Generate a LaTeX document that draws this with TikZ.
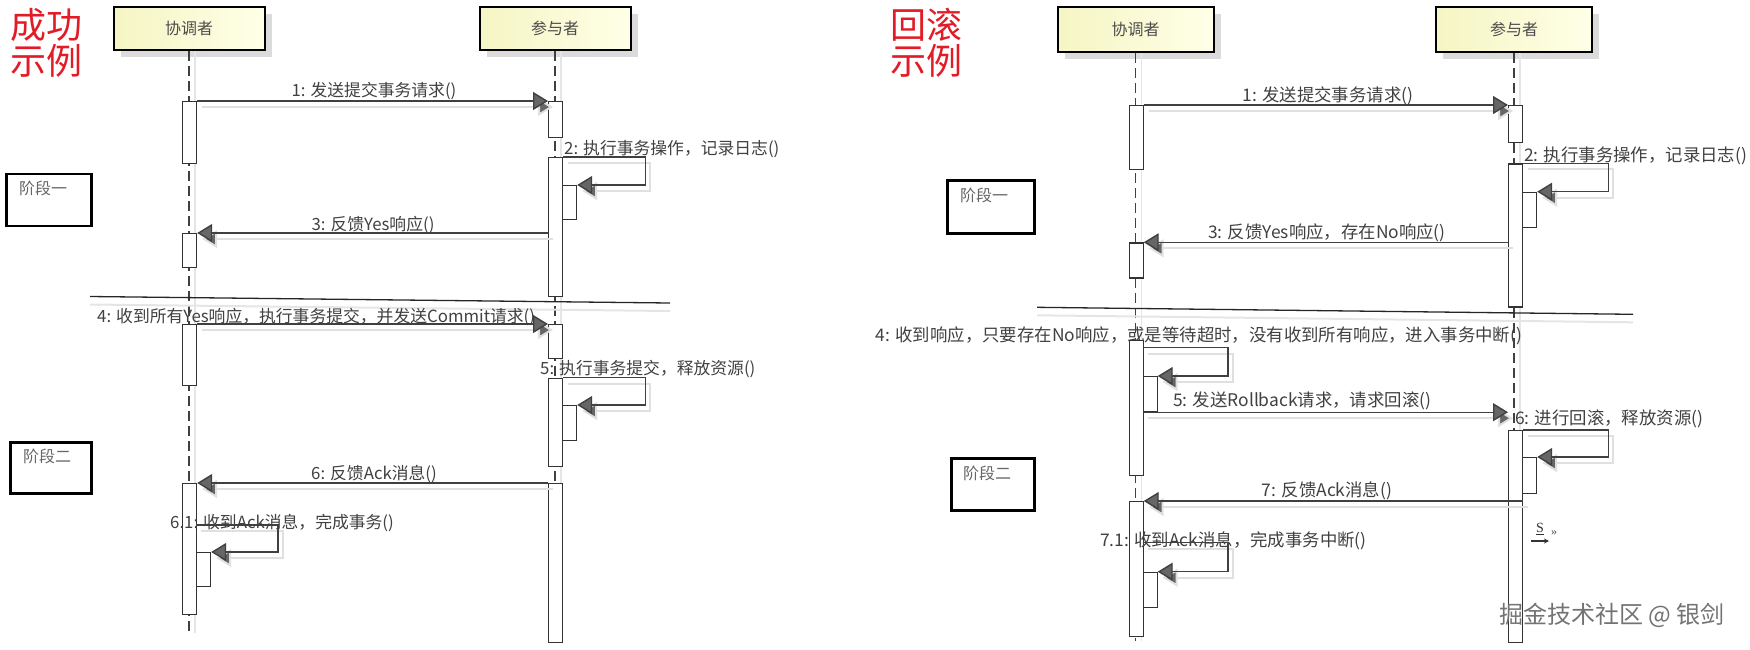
\documentclass[tikz,border=0pt]{standalone}
\usepackage{fontspec}
\setmainfont{Noto Sans CJK SC}
\newfontfamily\serifS{Liberation Serif}
\usetikzlibrary{arrows.meta,shadows,calc}
\definecolor{actorA}{RGB}{245,245,196}
\definecolor{actorB}{RGB}{255,255,232}
\definecolor{titlered}{RGB}{226,28,38}
\newcommand{\fsz}[1]{\fontsize{#1}{#1}\selectfont}
\begin{document}
\begin{tikzpicture}[x=1pt,y=-1pt,
  actor/.style={draw=black, line width=2, inner sep=0, left color=actorA, right color=actorB,
    font=\fsz{16}, text=black!70, drop shadow={shadow xshift=7pt, shadow yshift=-7pt, fill=black!14, opacity=1}},
  bar/.style={draw=black!80, line width=1.2, fill=white, minimum width=14, inner sep=0, anchor=north west},
  lifeline/.style={draw=black!75, line width=1.3, dash pattern=on 10pt off 5pt,
    preaction={draw=black!10, solid, line width=1.5, transform canvas={shift={(6pt,0pt)}}}},
  msg/.style={draw=black!75, line width=1.4, -{Triangle[length=15pt,width=18pt,fill=black!60]},
    preaction={draw=black!12, line width=2, transform canvas={shift={(5pt,-6pt)}}}},
  lblL/.style={font=\fsz{16.8}, text=black!75, inner sep=0},
  lblR/.style={font=\fsz{17.4}, text=black!75, inner sep=0},
  phase/.style={draw=black, line width=2.5, inner sep=0},
  phasetxt/.style={font=\fsz{16}, text=black!60, inner sep=0, anchor=base west},
  titletxt/.style={font=\fsz{36}, text=titlered, inner sep=0, align=left},
  sepline/.style={draw=black!85, line width=1.3, preaction={draw=black!10, line width=2, transform canvas={shift={(0pt,-8pt)}}}}
]
\useasboundingbox (0,0) rectangle (1750,649);

% ================= LEFT: success example =================
\node[titletxt] (tA) at (46,43) {成功\\[0pt]示例};

\node[actor, minimum width=151, minimum height=43] (cA) at (189,28.5) {协调者};
\node[actor, minimum width=151, minimum height=43] (pA) at (555,28.5) {参与者};

\coordinate (cAe) at (189,633);
\coordinate (pAe) at (555,642);
\draw[lifeline] (cA.south) -- (cAe);
\draw[lifeline] (pA.south) -- (pAe);

\node[phase, minimum width=85, minimum height=52, anchor=north west] (phA1) at (5,172.5) {};
\node[phasetxt] (phA1t) at (19,194) {阶段一};
\node[phase, minimum width=81, minimum height=51, anchor=north west] (phA2) at (9,441) {};
\node[phasetxt] (phA2t) at (23,462) {阶段二};

\coordinate (sepA1) at (90,296.5);
\coordinate (sepA2) at (670,303);
\draw[sepline] (sepA1) -- (sepA2);

% labels (drawn before the bars, which partly cover them)
\node[lblL, anchor=base] (l1) at (374,96.5) {1: 发送提交事务请求()};
\node[lblL, anchor=base west] (l2) at (564,154) {2: 执行事务操作，记录日志()};
\node[lblL, anchor=base] (l3) at (373,230) {3: 反馈Yes响应()};
\node[lblL, anchor=base west] (l4) at (97,322.5) {4: 收到所有Yes响应，执行事务提交，并发送Commit请求()};
\node[lblL, anchor=base west] (l5) at (540,374) {5: 执行事务提交，释放资源()};
\node[lblL, anchor=base] (l6) at (374,479) {6: 反馈Ack消息()};

% bars
\node[bar, minimum height=62] (cb1) at (182,101) {};
\node[bar, minimum height=34] (cb2) at (182,233) {};
\node[bar, minimum height=61] (cb3) at (182,324) {};
\node[bar, minimum height=131] (cb4) at (182,483) {};
\node[bar, minimum height=34] (cn4) at (196,552) {};
\node[bar, minimum height=36] (pb1) at (548,101) {};
\node[bar, minimum height=139] (pb2) at (548,157) {};
\node[bar, minimum height=34] (pn2) at (562,185) {};
\node[bar, minimum height=34] (pb3) at (548,324) {};
\node[bar, minimum height=88] (pb4) at (548,377.7) {};
\node[bar, minimum height=35] (pn4) at (562,405) {};
\node[bar, minimum height=159] (pb5) at (548,483) {};

\node[lblL, anchor=base west] (l61) at (170,528) {6.1: 收到Ack消息，完成事务()};

% messages
\draw[msg] (cb1.north east) -- (pb1.north west);
\draw[msg] (pb2.north east) -- ++(82,0) |- (pn2.north east);
\draw[msg] (pb2.west |- cb2.north) -- (cb2.north east);
\draw[msg] (cb3.north east) -- (pb3.north west);
\draw[msg] (pb4.north east) -- ++(82,0) |- (pn4.north east);
\draw[msg] (pb5.north west) -- (cb4.north east);
\draw[msg] ([yshift=27pt]cn4.north west) -- ++(82,0) |- (cn4.north east);

% ================= RIGHT: rollback example =================
\node[titletxt] (tB) at (926,43) {回滚\\[0pt]示例};

\node[actor, minimum width=156, minimum height=45] (cB) at (1135.5,29.5) {协调者};
\node[actor, minimum width=156, minimum height=45] (pB) at (1514,29.5) {参与者};

\coordinate (cBe) at (1135.5,641);
\coordinate (pBe) at (1514,642);
\draw[lifeline] (cB.south) -- (cBe);
\draw[lifeline] (pB.south) -- (pBe);

\node[phase, minimum width=87, minimum height=53, anchor=north west] (phB1) at (946,179) {};
\node[phasetxt] (phB1t) at (960,201) {阶段一};
\node[phase, minimum width=83, minimum height=52, anchor=north west] (phB2) at (950,457) {};
\node[phasetxt] (phB2t) at (963,479) {阶段二};

\coordinate (sepB1) at (1037,307.3);
\coordinate (sepB2) at (1633,314.3);
\draw[sepline] (sepB1) -- (sepB2);

% labels
\node[lblR, anchor=base] (r1) at (1328,101.7) {1: 发送提交事务请求()};
\node[lblR, anchor=base west] (r2) at (1524,161) {2: 执行事务操作，记录日志()};
\node[lblR, anchor=base] (r3) at (1327,238) {3: 反馈Yes响应，存在No响应()};
\node[lblR, anchor=base west] (r4) at (875.6,341) {4: 收到响应，只要存在No响应，或是等待超时，没有收到所有响应，进入事务中断()};
\node[lblR, anchor=base west] (r5) at (1173,406) {5: 发送Rollback请求，请求回滚()};
\node[lblR, anchor=base west] (r6) at (1515,424) {6: 进行回滚，释放资源()};
\node[lblR, anchor=base] (r7) at (1327,496) {7: 反馈Ack消息()};

% bars
\node[bar, minimum height=64] (cb1r) at (1128.5,105) {};
\node[bar, minimum height=35] (cb2r) at (1128.5,242.3) {};
\node[bar, minimum height=135] (cb3r) at (1128.5,340) {};
\node[bar, minimum height=35] (cn3r) at (1142.5,376) {};
\node[bar, minimum height=135] (cb4r) at (1128.5,501) {};
\node[bar, minimum height=35] (cn4r) at (1142.5,571.7) {};
\node[bar, minimum height=37] (pb1r) at (1508,105) {};
\node[bar, minimum height=143] (pb2r) at (1508,163.3) {};
\node[bar, minimum height=35] (pn2r) at (1522,191.7) {};
\node[bar, minimum height=212] (pb6r) at (1508,430) {};
\node[bar, minimum height=36] (pn6r) at (1522,457) {};

\node[lblR, anchor=base west] (r71) at (1100,546) {7.1: 收到Ack消息，完成事务中断()};

% messages
\draw[msg] (cb1r.north east) -- (pb1r.north west);
\draw[msg] (pb2r.north east) -- ++(85,0) |- (pn2r.north east);
\draw[msg] (pb2r.west |- cb2r.north) -- (cb2r.north east);
\draw[msg] ([yshift=28.3pt]cn3r.north west) -- ++(85.5,0) |- (cn3r.north east);
\draw[msg] (cn3r.south west) -- (pb6r.west |- cn3r.south);
\draw[msg] (pb6r.north east) -- ++(85,0) |- (pn6r.north east);
\draw[msg] (pb6r.east |- cb4r.north) -- (cb4r.north east);
\draw[msg] ([yshift=29pt]cn4r.north west) -- ++(85.5,0) |- (cn4r.north east);

% small "S >>" glyph
\node[inner sep=0, font=\serifS\fsz{14}, text=black!80] (sg) at (1540,529) {\underline{S}};
\coordinate (sga) at (1531,541);
\coordinate (sgb) at (1549,541);
\draw[black!80, line width=1.3, -{Stealth[length=5pt,width=5pt]}] (sga) -- (sgb);
\node[inner sep=0, font=\serifS\fsz{12}, text=black!70, anchor=west] (sg2) at (1551,533) {»};

% watermark
\node[inner sep=0, font=\fsz{24}, text=black!55] (wm) at (1612,615) {掘金技术社区 @ 银剑};
\end{tikzpicture}
\end{document}
